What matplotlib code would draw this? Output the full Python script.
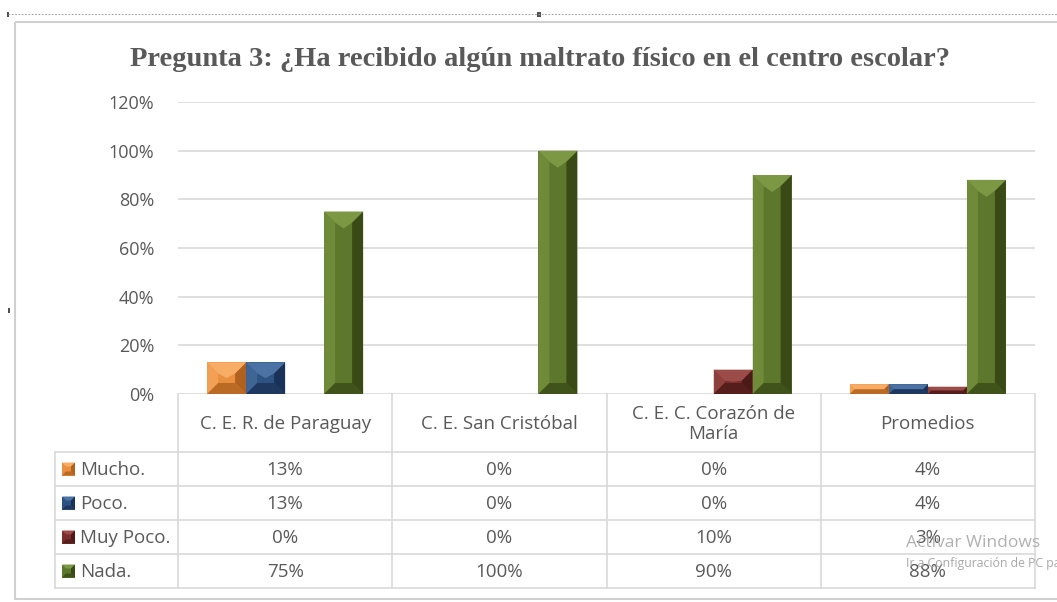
import numpy as np
import matplotlib.pyplot as plt
from matplotlib.patches import Polygon, Rectangle

# data
categorias = ["C. E. R. de Paraguay", "C. E. San Cristóbal", "C. E. C. Corazón de\nMaría", "Promedios"]
series = ["Mucho.", "Poco.", "Muy Poco.", "Nada."]
mucho = [13, 0, 0, 4]
poco = [13, 0, 0, 4]
muy_poco = [0, 0, 10, 3]
nada = [75, 100, 90, 88]
valores = [mucho, poco, muy_poco, nada]
yticks = [0, 20, 40, 60, 80, 100, 120]

# (face, light, dark) per series
colores = [("#E98F40", "#F8AD66", "#B0611F"),
           ("#2E5282", "#4C72A3", "#1A3257"),
           ("#7A2F2C", "#9C4C48", "#4C1918"),
           ("#5D782C", "#7C9844", "#394A17")]

W, H = 1057, 602
fig = plt.figure(figsize=(W / 100, H / 100), dpi=100)
gris = "#595959"
linea = "#D9D9D9"

# overlay axes in pixel coords for frame, table and title
ov = fig.add_axes([0, 0, 1, 1])
ov.set_xlim(0, W)
ov.set_ylim(H, 0)
ov.axis("off")

# plot area in pixels
px0, px1, py0, py1 = 178, 1035, 102, 394
ax = fig.add_axes([px0 / W, 1 - py1 / H, (px1 - px0) / W, (py1 - py0) / H])
ax.set_xlim(-0.5, len(categorias) - 0.5)
ax.set_ylim(0, 120)
ax.set_yticks(yticks)
ax.set_yticklabels([f"{t}%" for t in yticks], color=gris, fontsize=13, family="Open Sans")
ax.tick_params(axis="y", length=0, pad=17)
ax.set_xticks([])
for s in ax.spines.values():
    s.set_visible(False)
ax.grid(axis="y", color=linea, lw=1.2)
ax.set_axisbelow(True)
ax.patch.set_alpha(0)

xu = (px1 - px0) / len(categorias)   # px per x unit
yu = (py1 - py0) / 120.0             # px per y unit
ancho = 39 / xu


def bevel(a, x0, y0, w, h, cols, bx, by, top):
    # face + bevel bands, all in data units of axes a
    face, light, dark = cols
    if h <= 0:
        return
    b = min(1.0, (w / 2) / bx, (h / 2) / by)
    dx, dy = bx * b, by * b
    dt = min(top, h / 2)
    x1, y1 = x0 + w, y0 + h
    xm = x0 + w / 2
    a.add_patch(Rectangle((x0, y0), w, h, color=face, lw=0))
    a.add_patch(Polygon([(x0, y0), (x0 + dx, y0 + dy), (x0 + dx, y1 - dy), (x0, y1)], color=light, lw=0, alpha=0.6))
    a.add_patch(Polygon([(x1, y0), (x1 - dx, y0 + dy), (x1 - dx, y1 - dy), (x1, y1)], color=dark, lw=0))
    a.add_patch(Polygon([(x0, y0), (x1, y0), (x1 - dx, y0 + dy), (x0 + dx, y0 + dy)], color=dark, lw=0, alpha=0.8))
    a.add_patch(Polygon([(x0, y1), (x1, y1), (x1 - dx, y1 - dy), (xm, y1 - dt), (x0 + dx, y1 - dy)],
                        color=light, lw=0))


x = np.arange(len(categorias))
for i, vals in enumerate(valores):
    off = (i - 1.5) * ancho
    for xi, v in zip(x, vals):
        bevel(ax, xi + off - ancho / 2, 0, ancho, v, colores[i], 11 / xu, 11 / yu, 17 / yu)

# title
ov.text((px0 + px1) / 2 - 66, 60, "Pregunta 3: ¿Ha recibido algún maltrato físico en el centro escolar?",
        family="Liberation Serif", weight="bold", fontsize=20.5, color=gris, ha="center", va="center")

# data table
col_x = [px0 + k * xu for k in range(len(categorias) + 1)]
filas = [py1, 452, 486, 520, 554, 588]
tx0 = 55
for cx in col_x:
    ov.plot([cx, cx], [py1, filas[-1]], color=linea, lw=1.2)
ov.plot([tx0, tx0], [filas[1], filas[-1]], color=linea, lw=1.2)
for fy in filas[1:]:
    ov.plot([tx0, px1], [fy, fy], color=linea, lw=1.2)

for k, cat in enumerate(categorias):
    ov.text((col_x[k] + col_x[k + 1]) / 2, (filas[0] + filas[1]) / 2 + 1, cat, ha="center", va="center",
            fontsize=13.5, color=gris, family="Open Sans", linespacing=1.2)

for i, (nombre, vals) in enumerate(zip(series, valores)):
    cy = (filas[i + 1] + filas[i + 2]) / 2
    # legend key (pixel coords, y down)
    face, light, dark = colores[i]
    ov.add_patch(Rectangle((62, cy - 6.5), 13, 13, color=face, lw=0))
    ov.add_patch(Polygon([(62, cy - 6.5), (75, cy - 6.5), (71, cy - 2.5), (66, cy - 2.5)], color=light, lw=0))
    ov.add_patch(Polygon([(75, cy - 6.5), (75, cy + 6.5), (71, cy + 2.5), (71, cy - 2.5)], color=dark, lw=0))
    ov.add_patch(Polygon([(62, cy + 6.5), (75, cy + 6.5), (71, cy + 2.5), (66, cy + 2.5)], color=dark, lw=0, alpha=0.8))
    ov.text(80, cy + 1, nombre, ha="left", va="center", fontsize=13.5, color=gris, family="Open Sans")
    for k, v in enumerate(vals):
        ov.text((col_x[k] + col_x[k + 1]) / 2, cy + 1, f"{v}%", ha="center", va="center",
                fontsize=13.5, color=gris, family="Open Sans")

# chart frame and selection marks
ov.add_patch(Rectangle((15, 22), 1060, 577, fill=False, ec="#D0D0D0", lw=1.5))
ov.plot([8, W], [14, 14], color="#A0A0A0", lw=0.8, ls=(0, (1.5, 1.5)))
ov.add_patch(Rectangle((537, 12), 4, 5, color="#505050", lw=0))
ov.add_patch(Rectangle((7, 12), 2, 5, color="#505050", lw=0))
ov.add_patch(Rectangle((8, 308), 2, 5, color="#505050", lw=0))

# windows watermark from the screenshot
ov.text(906, 543, "Activar Windows", fontsize=12.5, color="#A8A8A8", family="Open Sans", va="center", alpha=0.9)
ov.text(906, 563, "Ir a Configuración de PC para", fontsize=8.8, color="#A8A8A8", family="Open Sans", va="center",
        clip_on=True)

fig.savefig("out.png", dpi=100)
